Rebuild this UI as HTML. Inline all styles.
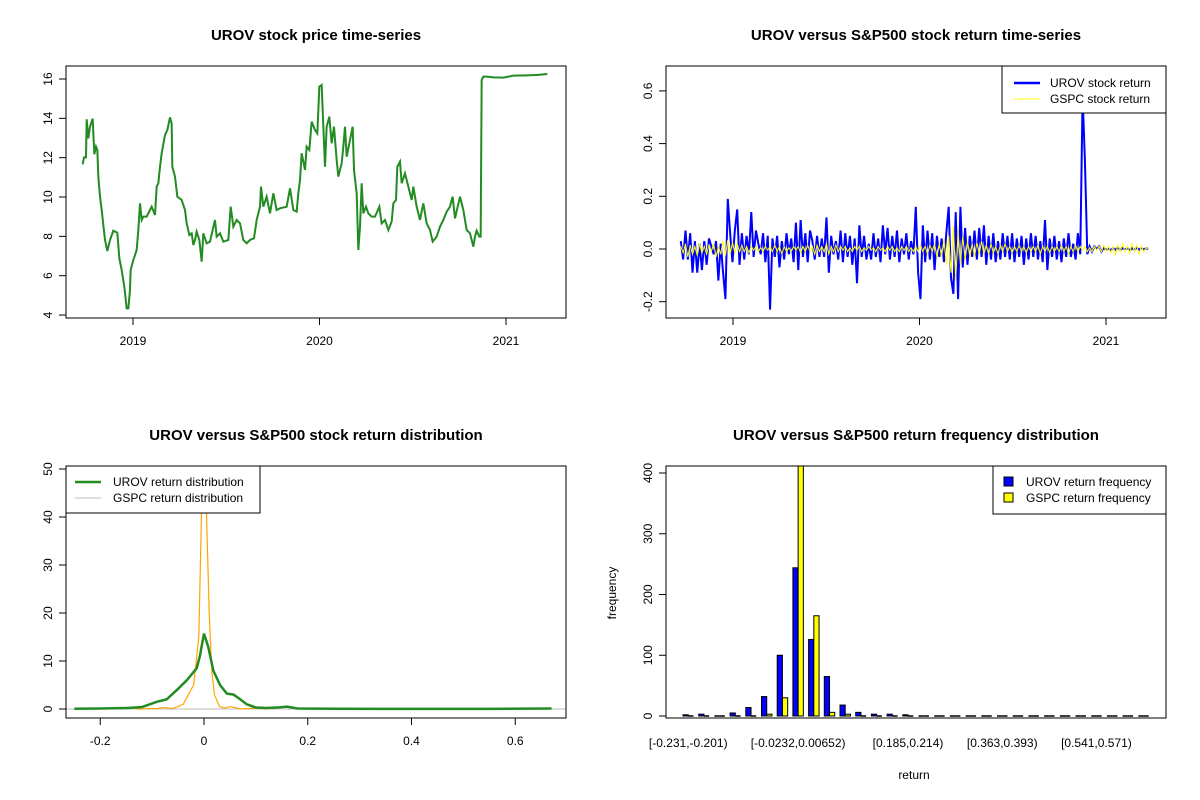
<!DOCTYPE html>
<html><head><meta charset="utf-8"><style>
html,body{margin:0;padding:0;background:#fff}
svg{display:block;font-family:"Liberation Sans",Arial,sans-serif}
</style></head><body>
<svg id="chart" width="1200" height="800" viewBox="0 0 1200 800"></svg>
<script>
// ---------- Panel 1: price (zoom-read points) ----------
const pricePts = [[68,313],[72,292],[78,292],[80,178],[85,235],[90,200],[98,176],[103,283],[108,260],[112,270],[115,350],[120,410],[125,450],[130,495],[135,540],[142,573],[150,540],[160,512],[172,518],[178,595],[185,630],[193,680],[200,745],[205,745],[210,690],[212,630],[220,600],[230,570],[235,510],[240,430],[245,480],[250,470],[260,470],[270,450],[275,440],[285,465],[290,380],[295,370],[300,320],[305,280],[315,225],[322,210],[330,172],[335,190],[337,320],[345,350],[352,410],[365,420],[375,450],[380,490],[388,525],[395,520],[400,555],[405,540],[410,515],[418,540],[425,605],[430,520],[440,550],[450,545],[458,510],[465,480],[470,530],[480,520],[490,545],[505,540],[512,440],[520,500],[530,480],[540,490],[550,540],[560,550],[570,540],[582,535],[590,480],[600,440],[603,380],[610,440],[620,410],[630,460],[640,400],[650,450],[660,445],[680,440],[690,385],[700,450],[710,455],[715,400],[720,360],[725,280],[735,330],[740,260],[748,270],[755,185],[765,210],[772,220],[778,80],[785,75],[790,200],[795,320],[800,200],[808,170],[815,250],[822,200],[830,300],[835,350],[845,310],[850,260],[855,200],[860,290],[870,240],[878,200],[882,330],[890,400],[895,570],[900,500],[905,370],[910,460],[918,440],[925,460],[935,470],[945,470],[958,440],[965,490],[975,480],[985,510],[995,485],[1000,430],[1008,420],[1012,320],[1020,305],[1025,370],[1035,340],[1045,380],[1055,420],[1060,380],[1070,440],[1080,480],[1090,430],[1100,490],[1110,510],[1118,545],[1130,530],[1140,500],[1150,480],[1160,455],[1170,440],[1178,410],[1185,475],[1192,445],[1200,410],[1210,450],[1220,510],[1230,520],[1240,560],[1245,530],[1250,512],[1258,530],[1262,530],[1265,60],[1270,50],[1280,50],[1300,52],[1330,53],[1360,47],[1400,46],[1430,45],[1462,42]];
const priceYears = pricePts.map(p => +(2019 + (p[0]/3 - 73)/186.5).toFixed(4));
const priceValues = pricePts.map(p => +(16 - (p[1]/3 - 19)/19.67).toFixed(3));
const priceYTicks = [4,6,8,10,12,14,16];
const yearTicks = [2019,2020,2021];

// ---------- Panel 2: returns ----------
const retStart = 2018.72, retStep = 0.0126;
const urovReturns = [0.03,-0.04,0.07,-0.04,0.06,-0.09,0.03,-0.09,0.02,-0.08,
0.03,-0.06,0.04,0.01,-0.02,0.03,-0.12,0.02,-0.09,-0.19,
0.19,0.06,-0.05,0.07,0.15,-0.06,0.06,-0.04,0.05,-0.02,
0.14,-0.03,0.07,0.02,-0.02,0.06,-0.05,0.05,-0.23,0.04,
-0.03,0.05,-0.07,0.03,-0.04,0.06,-0.02,0.04,-0.05,0.1,
-0.08,0.11,-0.03,0.06,-0.05,0.07,0.03,-0.04,0.05,-0.03,
0.04,-0.03,0.12,-0.09,0.05,-0.02,0.03,-0.04,0.07,-0.05,
0.06,-0.03,0.05,-0.06,0.04,-0.13,0.09,-0.03,0.05,-0.04,
0.02,-0.04,0.06,-0.03,0.04,-0.05,0.09,-0.02,0.08,-0.04,
0.05,-0.03,0.07,-0.05,0.04,-0.02,0.06,-0.04,0.03,-0.02,
0.16,-0.09,-0.19,0.09,-0.05,0.07,-0.04,0.06,-0.08,0.05,
-0.03,0.04,-0.05,0.06,0.16,-0.11,-0.17,0.14,-0.19,0.16,
-0.07,0.08,-0.06,0.05,-0.03,0.07,-0.04,0.08,-0.03,0.09,
-0.06,0.05,-0.04,0.06,-0.05,0.03,-0.04,0.06,-0.03,0.05,
-0.04,0.06,-0.05,0.04,-0.03,0.05,-0.06,0.04,-0.04,0.06,
-0.03,0.05,-0.04,0.03,-0.05,0.11,-0.08,0.04,-0.03,0.05,
-0.04,0.03,-0.05,0.04,-0.03,0.06,-0.03,0.02,-0.04,0.06,
-0.02,0.58,0.33,-0.02,0.01,-0.01,0.01,0,0.01,-0.01,
0.005,-0.004,0.003,-0.005,0.004,-0.003,0.005,-0.004,0.003,-0.002,
0.004,-0.005,0.003,-0.004,0.005,-0.003,0.004,-0.002,0.003,0];
const gspcReturns = [0.01,-0.015,0.02,-0.03,0.015,-0.02,0.01,-0.025,0.02,-0.015,
0.01,-0.02,0.015,-0.01,0.02,-0.03,0.01,-0.02,0.03,-0.025,
0.035,-0.02,0.025,-0.015,0.02,-0.01,0.015,-0.01,0.01,-0.015,
0.01,-0.005,0.01,-0.01,0.005,-0.01,0.01,-0.005,0.01,-0.01,
0.015,-0.01,0.01,-0.02,0.01,-0.01,0.005,-0.01,0.01,-0.005,
0.01,-0.015,0.01,-0.01,0.015,-0.01,0.01,-0.02,0.015,-0.01,
0.01,-0.01,0.02,-0.02,0.01,-0.01,0.015,-0.01,0.01,-0.005,
0.01,-0.01,0.005,-0.01,0.01,-0.005,0.01,-0.01,0.005,-0.005,
0.01,-0.005,0.005,-0.01,0.01,-0.005,0.005,-0.01,0.01,-0.005,
0.01,-0.01,0.005,-0.01,0.01,-0.005,0.01,-0.01,0.005,-0.01,
0.01,-0.01,0.015,-0.01,0.01,-0.02,0.015,-0.01,0.02,-0.03,
0.02,-0.03,0.04,-0.06,0.05,-0.09,0.09,-0.12,0.07,-0.06,
0.05,-0.04,0.03,-0.03,0.02,-0.03,0.025,-0.02,0.03,-0.02,
0.015,-0.02,0.02,-0.015,0.01,-0.02,0.015,-0.01,0.02,-0.01,
0.01,-0.015,0.01,-0.01,0.015,-0.01,0.01,-0.015,0.01,-0.01,
0.01,-0.01,0.015,-0.02,0.01,-0.01,0.01,-0.015,0.01,-0.01,
0.01,-0.01,0.015,-0.01,0.01,-0.02,0.01,-0.01,0.015,-0.01,
0.01,-0.005,0.01,-0.01,0.005,-0.01,0.01,-0.005,0.01,-0.01,
0.015,-0.01,0.01,-0.015,0.01,-0.02,0.015,-0.01,0.02,-0.01,
0.01,-0.015,0.02,-0.01,0.015,-0.02,0.01,-0.01,0.005,0];
const retYTicks = [-0.2,0,0.2,0.4,0.6];

// ---------- Panel 3: densities ----------
const urovDensX = [-0.25,-0.2,-0.15,-0.12,-0.104,-0.091,-0.072,-0.052,-0.033,-0.014,-0.008,0,0.008,0.018,0.031,0.044,0.057,0.07,0.082,0.1,0.12,0.14,0.16,0.18,0.25,0.4,0.55,0.67];
const urovDensY = [0.05,0.1,0.2,0.4,1,1.5,2,4,6,8.5,11,15.7,13,8,5,3.2,3,2,1,0.3,0.2,0.3,0.5,0.1,0.05,0.02,0.02,0.1];
const gspcDensX = [-0.13,-0.09,-0.08,-0.06,-0.05,-0.04,-0.03,-0.02,-0.01,-0.005,0,0.005,0.01,0.015,0.02,0.03,0.04,0.05,0.06,0.07,0.1,0.12];
const gspcDensY = [0,0.1,0.3,0.1,0.5,1,3,5,15,40,60,40,20,8,3,0.5,0.2,0.5,0.3,0,0.2,0];
const densXTicks = [-0.2,0,0.2,0.4,0.6];
const densYTicks = [0,10,20,30,40,50];

// ---------- Panel 4: histogram ----------
const binLabels = ["[-0.231,-0.201)","[-0.0232,0.00652)","[0.185,0.214)","[0.363,0.393)","[0.541,0.571)"];
const binLabelIdx = [0,7,14,20,26];
const urovFreq = [2,3,0,5,14,32,100,244,126,65,18,6,3,3,2,0,0,0,0,0,0,0,0,0,0,0,0,0,0,1];
const gspcFreq = [0,0,0,1,1,3,30,470,165,6,3,0,0,0,0,0,0,0,0,0,0,0,0,0,0,0,0,0,0,0];
const freqYTicks = [0,100,200,300,400];

// ---------- helpers ----------
const NS = "http://www.w3.org/2000/svg";
const svg = document.getElementById("chart");
function mk(tag, attrs, name, parent) {
  const el = document.createElementNS(NS, tag);
  for (const k in attrs) el.setAttribute(k, attrs[k]);
  
  
  (parent || svg).appendChild(el);
  return el;
}
function txt(x, y, s, name, opts) {
  opts = opts || {};
  const a = {x: x, y: y, "font-size": opts.size || 12, "text-anchor": opts.anchor || "middle", fill: "#000"};
  if (opts.bold) a["font-weight"] = "bold";
  if (opts.rot) a.transform = "rotate(-90 " + x + " " + y + ")";
  const t = mk("text", a, name, opts.parent);
  t.textContent = s;
  return t;
}
function clip(id, x, y, w, h) {
  const defs = mk("defs", {}, "clip-defs");
  const cp = mk("clipPath", {id: id}, "clip-path", defs);
  mk("rect", {x: x, y: y, width: w, height: h}, "clip-rect", cp);
}
function frame(x1, y1, x2, y2, name) {
  mk("rect", {x: x1, y: y1, width: x2 - x1, height: y2 - y1, fill: "none", stroke: "#000", "stroke-width": 1}, name);
}
function yAxis(xLeft, ticks, sy, fmt, name) {
  const g = mk("g", {}, name);
  const ys = ticks.map(sy);
  mk("line", {x1: xLeft, y1: ys[0], x2: xLeft, y2: ys[ys.length-1], stroke: "#000"}, "y-axis-line", g);
  ticks.forEach((t, i) => {
    mk("line", {x1: xLeft - 7, y1: ys[i], x2: xLeft, y2: ys[i], stroke: "#000"}, "y-tick", g);
    txt(xLeft - 14, ys[i], fmt(t), "y-tick-label", {rot: true, parent: g});
  });
}
function xAxis(yBot, ticks, sx, fmt, name) {
  const g = mk("g", {}, name);
  const xs = ticks.map(sx);
  mk("line", {x1: xs[0], y1: yBot, x2: xs[xs.length-1], y2: yBot, stroke: "#000"}, "x-axis-line", g);
  ticks.forEach((t, i) => {
    mk("line", {x1: xs[i], y1: yBot, x2: xs[i], y2: yBot + 7, stroke: "#000"}, "x-tick", g);
    txt(xs[i], yBot + 27, fmt(t), "x-tick-label", {parent: g});
  });
}
function poly(xs, ys, color, w, name, clipId) {
  const pts = xs.map((x, i) => x.toFixed(2) + "," + ys[i].toFixed(2)).join(" ");
  mk("polyline", {points: pts, fill: "none", stroke: color, "stroke-width": w, "stroke-linejoin": "miter", "clip-path": "url(#" + clipId + ")"}, name);
}
const fmtDec = v => v === 0 ? "0.0" : v.toFixed(1);
const fmtDens = v => v === 0 ? "0" : v.toFixed(1);

// ---------- Panel 1 ----------
const p1x = y => 133 + (y - 2019) * 186.5;
const p1y = v => 79 + (16 - v) * 19.67;
clip("c1", 66, 66, 500, 252);
txt(316, 40, "UROV stock price time-series", "price-title", {bold: true, size: 15});
poly(priceYears.map(p1x), priceValues.map(p1y), "#228B22", 2, "price-line", "c1");
frame(66, 66, 566, 318, "price-plot-frame");
yAxis(66, priceYTicks, p1y, v => String(v), "price-y-axis");
xAxis(318, yearTicks, p1x, v => String(v), "price-x-axis");

// ---------- Panel 2 ----------
const p2x = y => 733 + (y - 2019) * 186.5;
const p2y = v => 249 - v * 263.5;
clip("c2", 666, 66, 500, 252);
txt(916, 40, "UROV versus S&P500 stock return time-series", "returns-title", {bold: true, size: 15});
const retYears = urovReturns.map((_, i) => retStart + i * retStep);
poly(retYears.map(p2x), urovReturns.map(p2y), "#0000FF", 2, "urov-return-line", "c2");
poly(gspcReturns.map((_, i) => p2x(retStart + i * retStep)), gspcReturns.map(p2y), "#FFFF00", 1, "gspc-return-line", "c2");
frame(666, 66, 1166, 318, "returns-plot-frame");
yAxis(666, retYTicks, p2y, fmtDec, "returns-y-axis");
xAxis(318, yearTicks, p2x, v => String(v), "returns-x-axis");
const lg2 = mk("g", {}, "returns-legend");
mk("rect", {x: 1002, y: 66, width: 164, height: 47, fill: "#fff", stroke: "#000"}, "legend-box", lg2);
mk("line", {x1: 1014, y1: 83, x2: 1040, y2: 83, stroke: "#0000FF", "stroke-width": 2.5}, "legend-urov-swatch", lg2);
txt(1050, 87, "UROV stock return", "legend-urov-label", {anchor: "start", parent: lg2});
mk("line", {x1: 1014, y1: 99, x2: 1040, y2: 99, stroke: "#FFFF00", "stroke-width": 1}, "legend-gspc-swatch", lg2);
txt(1050, 103, "GSPC stock return", "legend-gspc-label", {anchor: "start", parent: lg2});

// ---------- Panel 3 ----------
const p3x = v => 204 + v * 518.75;
const p3y = v => 709 - v * 4.8;
clip("c3", 66, 466, 500, 252);
txt(316, 440, "UROV versus S&P500 stock return distribution", "density-title", {bold: true, size: 15});
mk("line", {x1: 66, y1: p3y(0), x2: 566, y2: p3y(0), stroke: "#BEBEBE"}, "density-zero-line");
poly(gspcDensX.map(p3x), gspcDensY.map(p3y), "#FFA500", 1.2, "gspc-density-line", "c3");
poly(urovDensX.map(p3x), urovDensY.map(p3y), "#228B22", 2.5, "urov-density-line", "c3");
frame(66, 466, 566, 718, "density-plot-frame");
yAxis(66, densYTicks, p3y, v => String(v), "density-y-axis");
xAxis(718, densXTicks, p3x, fmtDens, "density-x-axis");
const lg3 = mk("g", {}, "density-legend");
mk("rect", {x: 66, y: 466, width: 194, height: 47, fill: "#fff", stroke: "#000"}, "legend-box", lg3);
mk("line", {x1: 75, y1: 482, x2: 101, y2: 482, stroke: "#228B22", "stroke-width": 2.5}, "legend-urov-swatch", lg3);
txt(113, 486, "UROV return distribution", "legend-urov-label", {anchor: "start", parent: lg3});
mk("line", {x1: 75, y1: 498, x2: 101, y2: 498, stroke: "#BEBEBE", "stroke-width": 1}, "legend-gspc-swatch", lg3);
txt(113, 502, "GSPC return distribution", "legend-gspc-label", {anchor: "start", parent: lg3});

// ---------- Panel 4 ----------
const p4y = v => 716 - v * 0.6075;
const groupX = i => 683 + i * 15.7;
const barW = 5.23;
clip("c4", 666, 466, 500, 252);
txt(916, 440, "UROV versus S&P500 return frequency distribution", "histogram-title", {bold: true, size: 15});
const bars = mk("g", {"clip-path": "url(#c4)"}, "histogram-bars");
function drawBar(x, v, color, name) {
  const y = p4y(v);
  const h = p4y(0) - y;
  if (h < 1) {
    mk("line", {x1: x, y1: p4y(0), x2: x + barW, y2: p4y(0), stroke: "#000", "stroke-width": 1.5}, name, bars);
  } else {
    mk("rect", {x: x, y: y, width: barW, height: h, fill: color, stroke: "#000", "stroke-width": 1}, name, bars);
  }
}
urovFreq.forEach((v, i) => drawBar(groupX(i), v, "#0000FF", "bar-urov"));
gspcFreq.forEach((v, i) => drawBar(groupX(i) + barW, v, "#FFFF00", "bar-gspc"));
frame(666, 466, 1166, 718, "histogram-plot-frame");
yAxis(666, freqYTicks, p4y, v => String(v), "histogram-y-axis");
binLabelIdx.forEach((gi, k) => {
  txt(groupX(gi) + barW, 747, binLabels[k], "bin-label");
});
txt(914, 779, "return", "histogram-x-title");
txt(616, 593, "frequency", "histogram-y-title", {rot: true});
const lg4 = mk("g", {}, "histogram-legend");
mk("rect", {x: 993, y: 466, width: 173, height: 48, fill: "#fff", stroke: "#000"}, "legend-box", lg4);
mk("rect", {x: 1004, y: 477, width: 9, height: 9, fill: "#0000FF", stroke: "#000"}, "legend-urov-swatch", lg4);
txt(1026, 486, "UROV return frequency", "legend-urov-label", {anchor: "start", parent: lg4});
mk("rect", {x: 1004, y: 493, width: 9, height: 9, fill: "#FFFF00", stroke: "#000"}, "legend-gspc-swatch", lg4);
txt(1026, 502, "GSPC return frequency", "legend-gspc-label", {anchor: "start", parent: lg4});
</script>
</body></html>
